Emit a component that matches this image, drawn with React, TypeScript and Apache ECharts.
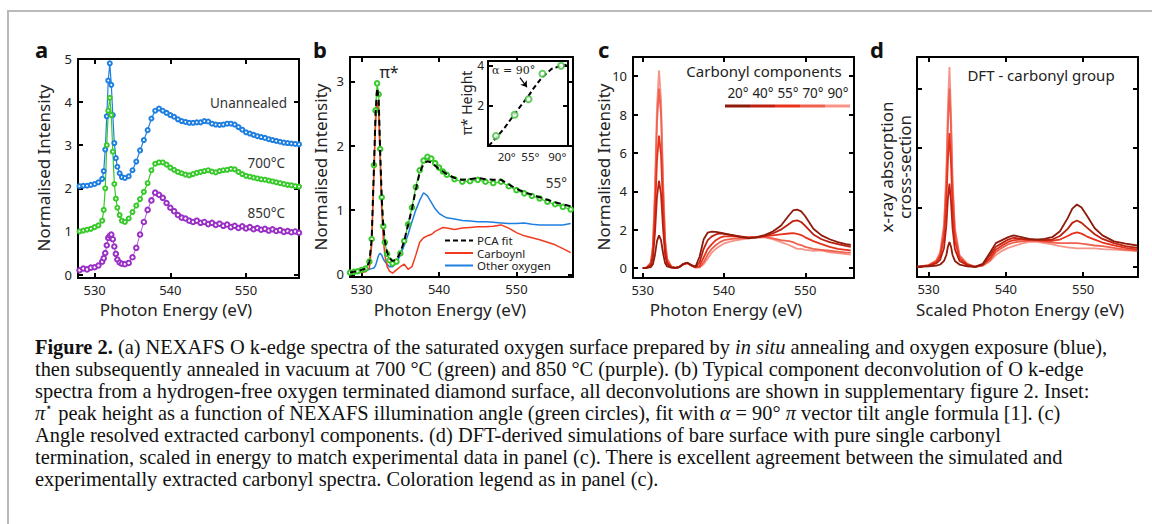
import React, { useEffect, useRef } from 'react';
import * as echarts from 'echarts';

const SANS = '"Noto Sans", "Open Sans", sans-serif';

// ---------- Panel a ----------
const aEnergy = [528,528.5,529,529.5,530,530.5,531,531.2,531.4,531.6,531.8,532,532.2,532.4,532.6,532.8,533,533.3,533.6,534,534.5,535,535.5,536,536.5,537,537.5,538,538.5,539,539.5,540,540.5,541,541.5,542,542.5,543,543.5,544,544.5,545,545.5,546,546.5,547,547.5,548,548.5,549,549.5,550,550.5,551,551.5,552,552.5,553,553.5,554,554.5,555,555.5,556,556.5,557];
const aUnannealed = [2.05,2.06,2.06,2.08,2.1,2.14,2.22,2.4,2.9,3.67,4.5,4.9,4.4,3.7,3.05,2.7,2.5,2.35,2.26,2.24,2.28,2.42,2.62,2.88,3.12,3.35,3.62,3.8,3.85,3.8,3.75,3.7,3.66,3.6,3.56,3.54,3.52,3.52,3.53,3.53,3.56,3.55,3.5,3.48,3.47,3.48,3.5,3.5,3.48,3.42,3.36,3.3,3.27,3.24,3.21,3.19,3.17,3.14,3.12,3.1,3.08,3.06,3.05,3.04,3.03,3.02];
const a700 = [1.0,1.02,1.04,1.06,1.1,1.14,1.25,1.5,2.0,3.0,3.8,4.1,3.7,2.85,2.1,1.76,1.55,1.38,1.25,1.22,1.3,1.45,1.6,1.75,1.92,2.12,2.42,2.57,2.6,2.6,2.55,2.48,2.43,2.38,2.35,2.32,2.3,2.33,2.36,2.38,2.4,2.42,2.39,2.37,2.4,2.42,2.43,2.45,2.44,2.38,2.33,2.29,2.27,2.25,2.23,2.21,2.2,2.18,2.16,2.14,2.12,2.1,2.08,2.07,2.05,2.04];
const a850 = [0.1,0.14,0.12,0.16,0.17,0.21,0.3,0.38,0.5,0.68,0.85,0.9,0.93,0.82,0.65,0.48,0.35,0.28,0.25,0.24,0.27,0.4,0.62,0.93,1.22,1.5,1.72,1.9,1.85,1.78,1.66,1.55,1.47,1.38,1.32,1.3,1.25,1.22,1.25,1.2,1.22,1.17,1.2,1.15,1.18,1.13,1.16,1.1,1.13,1.08,1.12,1.07,1.1,1.05,1.08,1.04,1.06,1.02,1.05,1.01,1.03,0.99,1.01,0.98,1.0,0.97];
const aXTicks = [530, 540, 550];
const aYTicks = [0, 1, 2, 3, 4, 5];

// ---------- Panel b ----------
const bEnergy = [528.5,529,529.5,530,530.5,531,531.3,531.6,531.8,532,532.2,532.4,532.6,532.8,533,533.3,533.6,534,534.5,535,535.5,536,536.5,537,537.5,538,538.5,539,539.5,540,540.5,541,542,543,544,545,546,547,548,549,550,551,552,553,554,555,556,557];
const bMeasured = [0.03,0.04,0.05,0.07,0.09,0.2,0.55,1.7,2.55,2.97,2.8,1.95,1.2,0.75,0.5,0.32,0.22,0.17,0.2,0.33,0.52,0.78,1.04,1.36,1.62,1.77,1.83,1.8,1.73,1.66,1.6,1.55,1.48,1.44,1.45,1.47,1.44,1.42,1.44,1.37,1.31,1.26,1.22,1.18,1.13,1.09,1.05,1.01];
const bPcaFit = [0.03,0.04,0.05,0.07,0.09,0.19,0.55,1.7,2.5,2.9,2.75,1.9,1.18,0.75,0.52,0.34,0.25,0.21,0.23,0.34,0.52,0.77,1.02,1.32,1.58,1.72,1.76,1.74,1.69,1.64,1.6,1.56,1.5,1.47,1.48,1.5,1.48,1.47,1.47,1.4,1.33,1.28,1.24,1.2,1.16,1.12,1.09,1.06];
const bCarbonyl = [0.02,0.02,0.03,0.03,0.04,0.1,0.45,1.6,2.35,2.68,2.55,1.75,1.0,0.55,0.3,0.12,0.05,0.02,0.07,0.12,0.16,0.08,0.12,0.3,0.5,0.57,0.6,0.62,0.67,0.7,0.73,0.72,0.7,0.72,0.73,0.74,0.74,0.75,0.77,0.72,0.65,0.6,0.57,0.54,0.5,0.46,0.4,0.34];
const bOther = [0.02,0.03,0.04,0.05,0.06,0.08,0.09,0.1,0.14,0.22,0.3,0.33,0.3,0.24,0.2,0.16,0.12,0.12,0.18,0.3,0.45,0.62,0.82,1.0,1.15,1.27,1.22,1.12,1.02,0.95,0.91,0.88,0.86,0.84,0.83,0.82,0.82,0.81,0.8,0.79,0.79,0.8,0.78,0.77,0.77,0.77,0.77,0.79];
const bXTicks = [530, 540, 550];
const bYTicks = [0, 1, 2, 3];
const bLegendNames = ['PCA fit', 'Carboynl', 'Other oxygen'];

// ---------- Inset ----------
const insetAngles = [20, 40, 55, 70, 90];
const insetHeights = [0.5, 1.56, 2.33, 3.6, 4.0];
const fitAngles = [12, 20, 30, 40, 50, 55, 60, 70, 80, 90, 96];
const fitHeights = [0.0, 0.4, 0.95, 1.6, 2.2, 2.5, 2.85, 3.45, 3.85, 4.0, 4.05];
const insetTickPos = [31.5, 57, 86];
const insetTickLabels = ['20°', '55°', '90°'];
const insetYTicks = [2, 4];
const arrowFrom = [45.8, 3.41];
const arrowTo = [53.4, 2.93];

// ---------- Panel c ----------
const angleLabels = ['20°', '40°', '55°', '70°', '90°'];
const angleColors = ['#8e1a0b', '#bd2010', '#e6321b', '#f0604e', '#f69488'];
const cEnergy = [530,530.5,531,531.25,531.5,531.75,532,532.25,532.5,532.75,533,533.5,534,534.5,535,535.5,536,536.5,537,537.5,538,538.5,539,539.5,540,541,542,543,544,545,546,547,548,548.5,549,549.5,550,551,552,553,554,555,555.6];
const c20 = [0,0.01,0.05,0.2,0.68,1.4,1.7,1.45,0.77,0.26,0.08,0.02,0.01,0.05,0.22,0.28,0.15,0.08,0.6,1.5,1.85,1.9,1.88,1.85,1.8,1.72,1.62,1.55,1.6,1.72,1.9,2.2,2.75,3.0,3.05,2.95,2.7,2.05,1.7,1.5,1.35,1.25,1.2];
const c40 = [0,0.02,0.14,0.55,1.8,3.7,4.55,3.85,2.05,0.7,0.22,0.04,0.01,0.05,0.2,0.27,0.14,0.05,0.3,1.0,1.45,1.65,1.75,1.8,1.78,1.72,1.65,1.58,1.6,1.68,1.8,2.0,2.3,2.45,2.48,2.4,2.2,1.75,1.5,1.35,1.25,1.15,1.1];
const c55 = [0,0.02,0.2,0.8,2.7,5.6,6.9,5.9,3.1,1.05,0.33,0.06,0.01,0.05,0.2,0.26,0.13,0.04,0.1,0.55,1.0,1.25,1.45,1.58,1.65,1.65,1.62,1.6,1.62,1.65,1.7,1.75,1.8,1.82,1.78,1.72,1.6,1.4,1.25,1.1,1.0,0.95,0.92];
const c70 = [0,0.03,0.28,1.1,3.7,7.6,9.35,8.0,4.2,1.4,0.45,0.08,0.01,0.05,0.2,0.25,0.12,0.03,0.05,0.3,0.7,1.0,1.2,1.35,1.45,1.52,1.55,1.58,1.6,1.62,1.55,1.45,1.4,1.35,1.25,1.2,1.1,1.0,0.95,0.9,0.85,0.8,0.8];
const c90 = [0,0.03,0.3,1.2,4.1,8.4,10.3,8.8,4.6,1.55,0.5,0.09,0.01,0.05,0.2,0.25,0.12,0.02,0.03,0.2,0.5,0.8,1.0,1.15,1.28,1.4,1.48,1.55,1.58,1.6,1.5,1.35,1.2,1.1,1.0,1.0,0.95,0.9,0.92,0.82,0.78,0.72,0.7];
const cXTicks = [530, 540, 550];
const cYTicks = [0, 2, 4, 6, 8, 10];

// ---------- Panel d ----------
const dEnergy = [528.5,530,531,531.5,532,532.3,532.5,532.7,532.9,533.1,533.4,534,535,536,537,538,538.7,539.5,540.3,541,542,543,544,545,546,547,548,548.6,549.2,549.8,550.5,551.5,552.5,554,555.5,557];
const d20 = [0,0.01,0.02,0.04,0.1,0.2,0.34,0.42,0.34,0.2,0.1,0.04,0.01,0,0.05,0.25,0.4,0.45,0.5,0.53,0.5,0.47,0.46,0.47,0.5,0.6,0.82,0.98,1.05,1.0,0.86,0.65,0.53,0.43,0.39,0.36];
const d40 = [0,0.02,0.06,0.12,0.32,0.7,1.15,1.4,1.1,0.65,0.3,0.1,0.03,0,0.04,0.2,0.34,0.4,0.46,0.49,0.47,0.46,0.46,0.45,0.46,0.52,0.64,0.74,0.78,0.74,0.66,0.55,0.47,0.4,0.35,0.32];
const d55 = [0,0.02,0.08,0.18,0.5,1.1,1.8,2.25,1.75,1.0,0.45,0.14,0.04,0,0.03,0.15,0.29,0.36,0.42,0.45,0.46,0.46,0.45,0.44,0.44,0.46,0.52,0.56,0.58,0.56,0.51,0.46,0.41,0.36,0.32,0.29];
const d70 = [0,0.03,0.1,0.22,0.65,1.45,2.4,3.0,2.35,1.35,0.6,0.18,0.05,0,0.02,0.12,0.25,0.32,0.38,0.41,0.43,0.44,0.44,0.42,0.41,0.4,0.4,0.4,0.4,0.39,0.38,0.36,0.35,0.32,0.29,0.27];
const d90 = [0,0.03,0.11,0.25,0.72,1.6,2.7,3.36,2.6,1.5,0.66,0.2,0.05,0,0.02,0.1,0.2,0.27,0.32,0.35,0.39,0.42,0.42,0.4,0.38,0.35,0.33,0.32,0.31,0.31,0.31,0.31,0.3,0.29,0.28,0.27];
const dXTicks = [530, 540, 550];
const dYTicks = [0, 1, 2, 3];

const COL_BLUE = '#1f7fe0';
const COL_GREEN = '#38c92a';
const COL_PURPLE = '#9a2fc6';
const COL_RED = '#f23a1f';
const COL_OTHER = '#1f7fe0';

const pairs = (xs: number[], ys: number[]) => xs.map((x, i) => [x, ys[i]]);

const axisLineStyle = { show: true, onZero: false, lineStyle: { color: '#000', width: 2 } };

function xAxes(gi: number, min: number, max: number, ticks: number[], showTicks = true) {
  const base = {
    type: 'value', gridIndex: gi, min, max, splitLine: { show: false },
    axisLine: axisLineStyle,
  };
  return [
    { ...base, position: 'bottom',
      axisTick: { show: showTicks, inside: true, length: 5, lineStyle: { color: '#000', width: 2 }, customValues: ticks },
      axisLabel: { show: true, customValues: ticks, color: '#222', fontSize: 13, fontFamily: SANS, margin: 5 } },
    { ...base, position: 'top',
      axisTick: { show: showTicks, inside: true, length: 5, lineStyle: { color: '#000', width: 2 }, customValues: ticks },
      axisLabel: { show: false } },
  ];
}
function yAxes(gi: number, min: number, max: number, ticks: number[], labels = true) {
  const base = {
    type: 'value', gridIndex: gi, min, max, splitLine: { show: false },
    axisLine: axisLineStyle,
  };
  return [
    { ...base, position: 'left',
      axisTick: { show: true, inside: true, length: 5, lineStyle: { color: '#000', width: 2 }, customValues: ticks },
      axisLabel: { show: labels, customValues: ticks, color: '#222', fontSize: 13, fontFamily: SANS, margin: 6 } },
    { ...base, position: 'right',
      axisTick: { show: true, inside: true, length: 5, lineStyle: { color: '#000', width: 2 }, customValues: ticks },
      axisLabel: { show: false } },
  ];
}

function lineSeries(gi: number, xs: number[], ys: number[], color: string, width: number, extra: any = {}) {
  return {
    type: 'line', xAxisIndex: gi * 2, yAxisIndex: gi * 2, data: pairs(xs, ys),
    showSymbol: false, symbol: 'none', silent: true, z: 3,
    lineStyle: { color, width }, itemStyle: { color },
    ...extra,
  };
}
function markerSeries(gi: number, xs: number[], ys: number[], color: string, size: number, lineWidth: number) {
  return {
    type: 'line', xAxisIndex: gi * 2, yAxisIndex: gi * 2, data: pairs(xs, ys),
    showSymbol: true, symbol: 'emptyCircle', symbolSize: size, silent: true, z: 3,
    lineStyle: { color, width: lineWidth },
    itemStyle: { color, borderColor: color, borderWidth: 1 },
  };
}

function txt(text: string, x: number, y: number, size: number, extra: any = {}, styleExtra: any = {}) {
  return {
    type: 'text', x, y, silent: true, z: 20, ...extra,
    style: {
      text, fill: '#222', fontSize: size, fontFamily: SANS,
      textAlign: 'left', textVerticalAlign: 'middle', align: 'left', verticalAlign: 'middle',
      ...styleExtra,
    },
  };
}
function centered(text: string, x: number, y: number, size: number, extra: any = {}, styleExtra: any = {}) {
  return txt(text, x, y, size, extra, { textAlign: 'center', align: 'center', ...styleExtra });
}
function seg(x1: number, y1: number, x2: number, y2: number, color: string, width: number, dash?: number[]) {
  return {
    type: 'line', silent: true, z: 20,
    shape: { x1, y1, x2, y2 },
    style: { stroke: color, lineWidth: width, lineDash: dash },
  };
}

function buildOption() {
  const grid = [
    { left: 78, top: 59, width: 221, height: 219 },
    { left: 350, top: 57, width: 223, height: 220 },
    { left: 488, top: 61, width: 80, height: 85, show: true, backgroundColor: '#fff', borderWidth: 0 },
    { left: 633, top: 57, width: 221, height: 221 },
    { left: 917, top: 57, width: 221, height: 220 },
  ];
  const xAxis = [
    ...xAxes(0, 527.8, 557, aXTicks),
    ...xAxes(1, 528.5, 557.3, bXTicks),
    ...xAxes(2, 11.4, 97.5, insetTickPos, false),
    ...xAxes(3, 528.8, 556, cXTicks),
    ...xAxes(4, 528.5, 557.1, dXTicks),
  ];
  (xAxis[4] as any).axisLabel = {
    show: true, customValues: insetTickPos, color: '#222', fontSize: 11.5, fontFamily: SANS, margin: 4,
    formatter: (v: number) => insetTickLabels[insetTickPos.indexOf(v)] ?? '',
  };
  const yAxis = [
    ...yAxes(0, -0.08, 5, aYTicks),
    ...yAxes(1, -0.04, 3.38, bYTicks),
    ...yAxes(2, 0, 4.24, insetYTicks),
    ...yAxes(3, -0.52, 11, cYTicks),
    ...yAxes(4, -0.17, 3.53, dYTicks, false),
  ];
  (yAxis[4] as any).axisLabel.margin = 4;
  (yAxis[4] as any).axisLabel.fontSize = 12;

  const cSeries = [c90, c70, c55, c40, c20];
  const dSeries = [d90, d70, d55, d40, d20];
  const colorsRev = [...angleColors].reverse();

  const series: any[] = [
    markerSeries(0, aEnergy, aUnannealed, COL_BLUE, 4, 1.2),
    markerSeries(0, aEnergy, a700, COL_GREEN, 4, 1.2),
    markerSeries(0, aEnergy, a850, COL_PURPLE, 4.5, 0.8),

    markerSeries(1, bEnergy, bMeasured, COL_GREEN, 4.5, 1.2),
    lineSeries(1, bEnergy, bOther, COL_OTHER, 1.5),
    lineSeries(1, bEnergy, bCarbonyl, COL_RED, 1.5),
    lineSeries(1, bEnergy, bPcaFit, '#000', 2, { lineStyle: { color: '#000', width: 2, type: [6, 4] }, z: 4 }),

    lineSeries(2, fitAngles, fitHeights, '#000', 2, {
      lineStyle: { color: '#000', width: 2, type: [5, 3] },
      markLine: {
        silent: true, symbol: ['none', 'arrow'], symbolSize: 6, animation: false,
        label: { show: false }, lineStyle: { color: '#000', width: 1.2, type: 'solid' },
        data: [[{ coord: arrowFrom }, { coord: arrowTo }]],
      },
    }),
    {
      type: 'scatter', xAxisIndex: 4, yAxisIndex: 4, data: pairs(insetAngles, insetHeights),
      symbol: 'emptyCircle', symbolSize: 6, silent: true, z: 5,
      itemStyle: { color: '#3fbf3a', borderColor: '#3fbf3a', borderWidth: 1.5 },
    },
    ...cSeries.map((ys, i) => lineSeries(3, cEnergy, ys, colorsRev[i], 1.8)),
    ...dSeries.map((ys, i) => lineSeries(4, dEnergy, ys, colorsRev[i], 1.8)),
  ];

  const legendY = [240.5, 253, 265.5];
  const legendColors = ['#000', COL_RED, COL_OTHER];
  const graphic: any[] = [
    // panel letters
    txt('a', 35, 49, 22, {}, { fontWeight: 'bold', fill: '#111' }),
    txt('b', 313, 49, 22, {}, { fontWeight: 'bold', fill: '#111' }),
    txt('c', 598, 49, 22, {}, { fontWeight: 'bold', fill: '#111' }),
    txt('d', 870, 49, 22, {}, { fontWeight: 'bold', fill: '#111' }),
    // axis titles
    centered('Normalised Intensity', 43, 168, 17, { rotation: Math.PI / 2 }),
    centered('Normalised Intensity', 320, 167, 17, { rotation: Math.PI / 2 }),
    centered('Normalised Intensity', 603, 167, 17, { rotation: Math.PI / 2 }),
    centered('x-ray absorption\ncross-section', 895, 167, 17, { rotation: Math.PI / 2 }, { lineHeight: 18 }),
    centered('Photon Energy (eV)', 176, 309, 17),
    centered('Photon Energy (eV)', 450, 309, 17),
    centered('Photon Energy (eV)', 726, 309, 17),
    centered('Scaled Photon Energy (eV)', 1020, 309, 17),
    // panel a labels
    txt('Unannealed', 287, 103, 13.5, {}, { textAlign: 'right', align: 'right', fill: '#333' }),
    txt('700°C', 285, 163, 13.5, {}, { textAlign: 'right', align: 'right', fill: '#333' }),
    txt('850°C', 285, 213, 13.5, {}, { textAlign: 'right', align: 'right', fill: '#333' }),
    // panel b labels
    centered('π*', 389, 72, 16),
    txt('55°', 567, 183, 13.5, {}, { textAlign: 'right', align: 'right', fill: '#333' }),
    centered('π* Height', 466, 103, 14, { rotation: Math.PI / 2 }),
    txt('α = 90°', 492, 70, 11, {}, { fontFamily: '"DejaVu Serif", serif', fill: '#222' }),
    // panel c legend
    centered('Carbonyl components', 764, 71, 15),
    // panel d label
    centered('DFT - carbonyl group', 1041, 75, 15),
  ];
  bLegendNames.forEach((name, i) => {
    graphic.push(seg(445, legendY[i], 473, legendY[i], legendColors[i], 2, i === 0 ? [5, 3] : undefined));
    graphic.push(txt(name, 477, legendY[i], 11.5, {}, { fill: '#222', lineHeight: 11 }));
  });
  angleLabels.forEach((lab, i) => {
    graphic.push(centered(lab, 738 + i * 25, 93, 13.5));
    graphic.push(seg(725 + i * 25, 106, 750 + i * 25, 106, angleColors[i], 3));
  });

  return { animation: false, backgroundColor: 'transparent', grid, xAxis, yAxis, series, graphic };
}

const supStyle: React.CSSProperties = { fontSize: '0.6em', position: 'relative', top: '-0.7em' };
const captionLines: React.ReactNode[] = [
  <><b>Figure 2.</b> (a) NEXAFS O k-edge spectra of the saturated oxygen surface prepared by <i>in situ</i> annealing and oxygen exposure (blue),</>,
  <>then subsequently annealed in vacuum at 700 °C (green) and 850 °C (purple). (b) Typical component deconvolution of O k-edge</>,
  <>spectra from a hydrogen-free oxygen terminated diamond surface, all deconvolutions are shown in supplementary figure 2. Inset:</>,
  <><i>π</i><span style={supStyle}>⋆</span> peak height as a function of NEXAFS illumination angle (green circles), fit with <i>α</i> = 90° <i>π</i> vector tilt angle formula [1]. (c)</>,
  <>Angle resolved extracted carbonyl components. (d) DFT-derived simulations of bare surface with pure single carbonyl</>,
  <>termination, scaled in energy to match experimental data in panel (c). There is excellent agreement between the simulated and</>,
  <>experimentally extracted carbonyl spectra. Coloration legend as in panel (c).</>,
];
const captionTop = [347, 369, 391, 413, 435, 457, 479];

export default function App() {
  const ref = useRef<HTMLDivElement>(null);
  useEffect(() => {
    if (!ref.current) return;
    const chart = echarts.init(ref.current, undefined, { renderer: 'svg' });
    chart.setOption(buildOption() as any);
    return () => chart.dispose();
  }, []);
  return (
    <div style={{ position: 'absolute', left: 0, top: 0, width: 1152, height: 524, background: '#fff', overflow: 'hidden' }}>
      <div style={{ position: 'absolute', left: 7, top: 10, width: 1150, height: 520, borderLeft: '2px solid #b9b9b9', borderTop: '2px solid #b9b9b9' }} />
      <div ref={ref} style={{ position: 'absolute', left: 0, top: 0, width: 1152, height: 524 }} />
      {captionLines.map((line, i) => (
        <div key={i} style={{
          position: 'absolute', left: 35, top: captionTop[i] - 12, height: 24, lineHeight: '24px',
          fontFamily: '"Liberation Serif", "Times New Roman", serif', fontSize: 20.4, color: '#111', whiteSpace: 'nowrap',
        }}>{line}</div>
      ))}
    </div>
  );
}
